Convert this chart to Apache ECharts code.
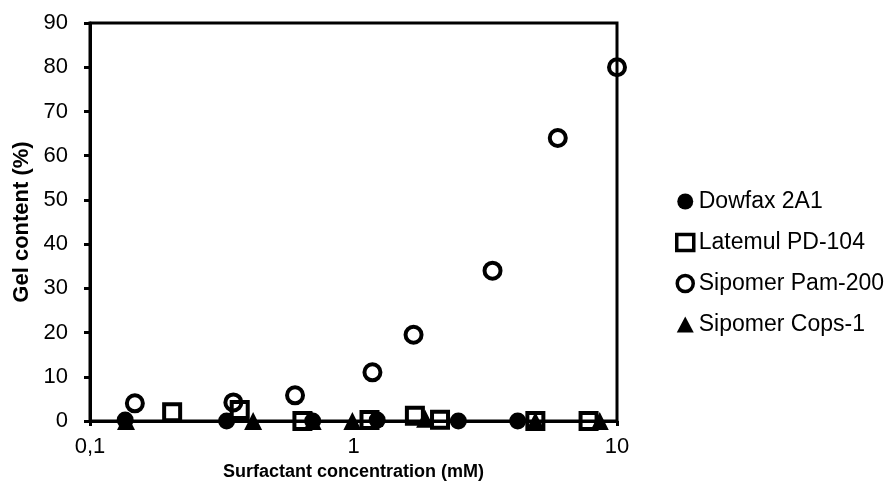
<!DOCTYPE html>
<html>
<head>
<meta charset="utf-8">
<script src="https://cdn.jsdelivr.net/npm/echarts@6/dist/echarts.min.js"></script>
<style>
  html, body { margin: 0; padding: 0; background: #fff; }
  #chart { width: 887px; height: 495px; }
</style>
</head>
<body>
<div id="chart"></div>
<script>
// 데이터 (x: mM, y: %)
const seriesNames = ['Dowfax 2A1', 'Latemul PD-104', 'Sipomer Pam-200', 'Sipomer Cops-1'];

const dowfaxX = [0.136, 0.33, 0.7, 1.23, 2.5, 4.2];
const dowfaxY = [0.2, 0, 0, 0.2, 0, 0];

const latemulX = [0.205, 0.37, 0.64, 1.15, 1.71, 2.13, 4.9, 7.8];
const latemulY = [2, 2.5, 0, 0.2, 1.2, 0.3, 0, 0];

const pamX = [0.148, 0.35, 0.6, 1.18, 1.69, 3.37, 5.96, 10];
const pamY = [4, 4.2, 5.8, 11, 19.5, 34, 64, 80];

const copsX = [0.137, 0.416, 0.7, 0.99, 1.87, 4.9, 8.6];
const copsY = [0, 0, 0, 0, 0.5, 0, 0];

const xTickLabels = { 0.1: '0,1', 1: '1', 10: '10' };

const FONT = '"Liberation Sans", Arial, sans-serif';

function pairs(xs, ys) {
  return xs.map((x, i) => [x, ys[i]]);
}

let myChart = echarts.init(document.getElementById('chart'));

// 속이 빈 마커 (검정 굵은 테두리)
const openStyle = {
  color: 'rgba(255,255,255,0)',
  borderColor: '#000',
  borderWidth: 4,
  opacity: 1,
};
const solidStyle = { color: '#000', opacity: 1 };

var option = {
  animation: false,
  backgroundColor: '#fff',
  grid: {
    left: 90,
    right: 270,
    top: 23,
    bottom: 74,
    show: true,
    borderColor: '#000',
    borderWidth: 3,
  },
  legend: {
    orient: 'vertical',
    left: 675,
    top: 190,
    padding: 0,
    itemGap: 18,
    itemWidth: 17,
    itemHeight: 16,
    textStyle: { fontFamily: FONT, fontSize: 23, color: '#000' },
    data: [
      { name: seriesNames[0], itemStyle: { color: '#000', opacity: 1 } },
      { name: seriesNames[1], itemStyle: { color: '#fff', borderColor: '#000', borderWidth: 3.5 } },
      { name: seriesNames[2], itemStyle: { color: '#fff', borderColor: '#000', borderWidth: 3.5 } },
      { name: seriesNames[3], itemStyle: { color: '#000', opacity: 1 } },
    ],
  },
  xAxis: {
    type: 'log',
    logBase: 10,
    min: 0.1,
    max: 10,
    name: 'Surfactant concentration (mM)',
    nameLocation: 'middle',
    nameGap: 41,
    nameTextStyle: { fontFamily: FONT, fontSize: 18, fontWeight: 'bold', color: '#000' },
    axisLine: { show: true, lineStyle: { color: '#000', width: 3 } },
    axisTick: { show: true, inside: false, length: 5, lineStyle: { color: '#000', width: 3 } },
    minorTick: { show: false },
    splitLine: { show: false },
    axisLabel: {
      fontFamily: FONT,
      fontSize: 22,
      color: '#000',
      margin: 15,
      formatter: (v) => xTickLabels[v] !== undefined ? xTickLabels[v] : '',
    },
  },
  yAxis: {
    type: 'value',
    min: 0,
    max: 90,
    interval: 10,
    name: 'Gel content (%)',
    nameLocation: 'middle',
    nameGap: 46,
    nameTextStyle: { fontFamily: FONT, fontSize: 22, fontWeight: 'bold', color: '#000' },
    axisLine: { show: true, lineStyle: { color: '#000', width: 3 } },
    axisTick: { show: true, inside: false, length: 6, lineStyle: { color: '#000', width: 3 } },
    splitLine: { show: false },
    axisLabel: { fontFamily: FONT, fontSize: 22, color: '#000', margin: 22 },
  },
  series: [
    {
      name: seriesNames[0],
      type: 'scatter',
      symbol: 'circle',
      symbolSize: 17,
      itemStyle: solidStyle,
      data: pairs(dowfaxX, dowfaxY),
    },
    {
      name: seriesNames[1],
      type: 'scatter',
      symbol: 'rect',
      symbolSize: 16,
      itemStyle: openStyle,
      data: pairs(latemulX, latemulY),
    },
    {
      name: seriesNames[2],
      type: 'scatter',
      symbol: 'circle',
      symbolSize: 16,
      itemStyle: openStyle,
      data: pairs(pamX, pamY),
    },
    {
      name: seriesNames[3],
      type: 'scatter',
      symbol: 'triangle',
      symbolSize: 18,
      itemStyle: solidStyle,
      data: pairs(copsX, copsY),
    },
  ],
};

myChart.setOption(option);
</script>
</body>
</html>
